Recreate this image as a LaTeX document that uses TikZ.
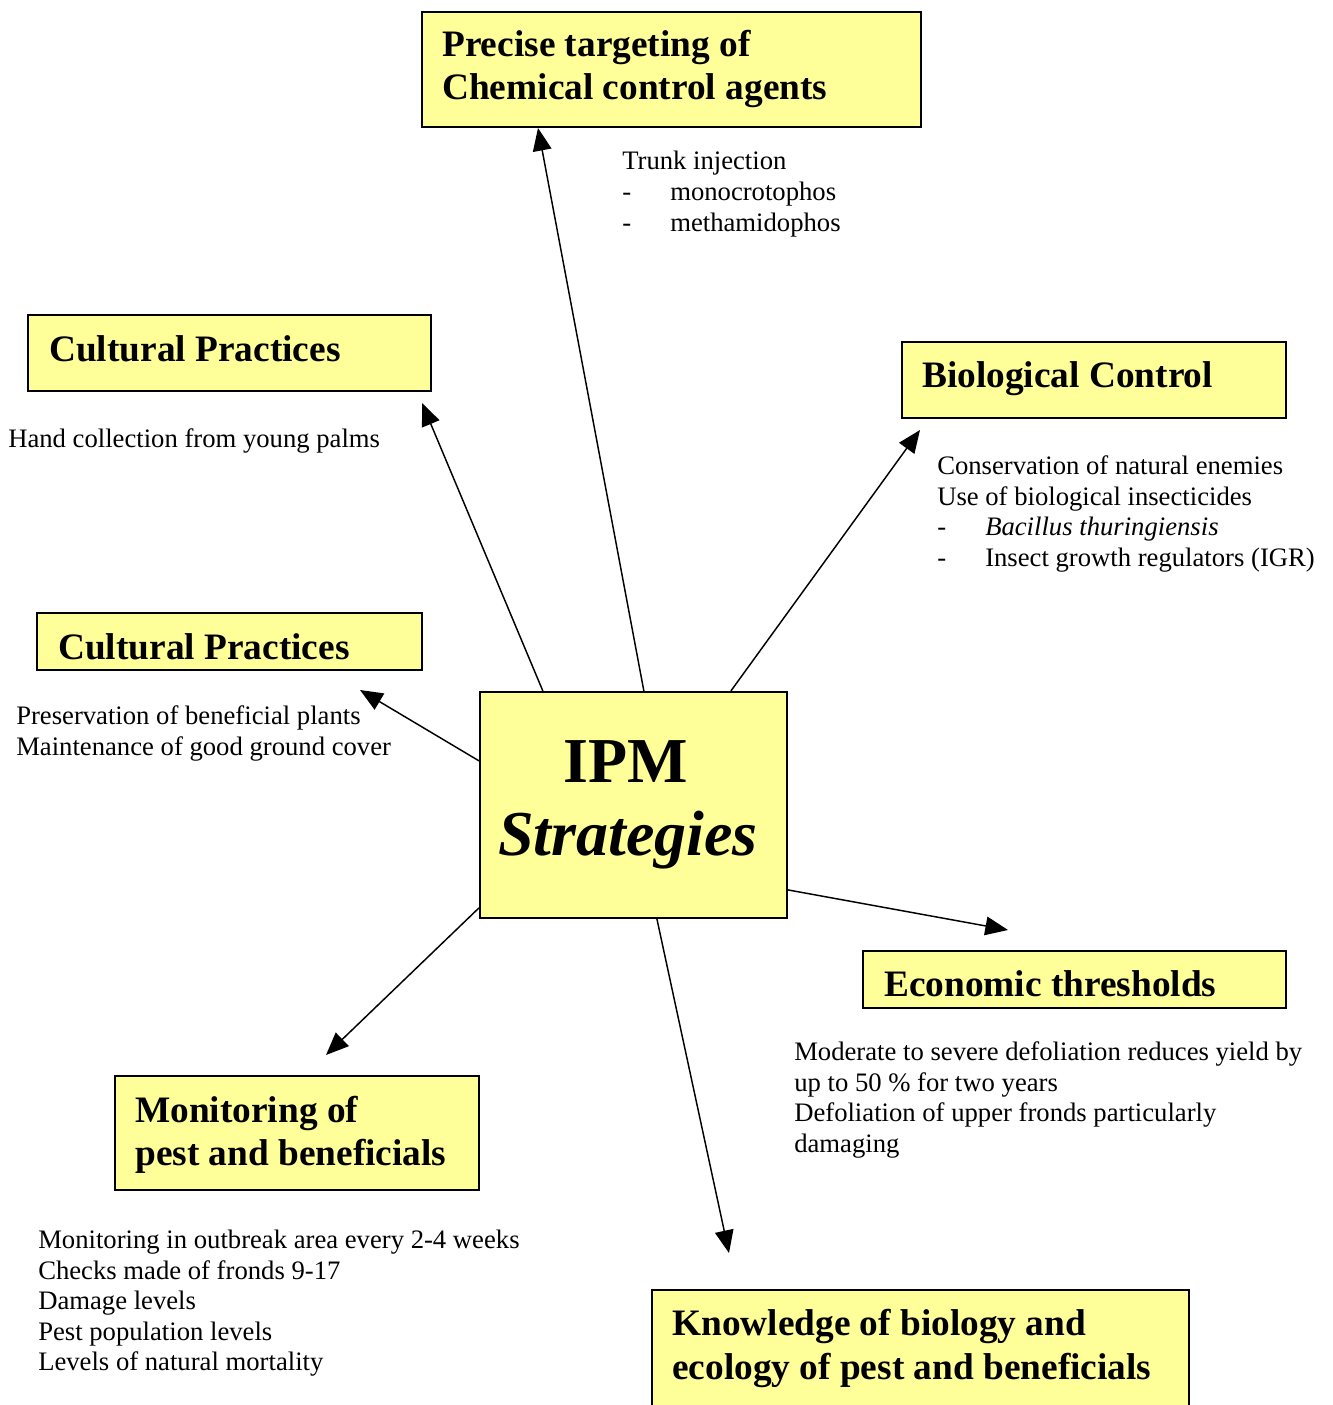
\documentclass[tikz,border=0pt]{standalone}
\usepackage{fontspec}
\setmainfont{Liberation Serif}
\usetikzlibrary{arrows.meta}
\definecolor{boxyellow}{HTML}{FFFF99}
\tikzset{
  box/.style={draw=black, line width=1.3pt, fill=boxyellow, inner sep=0, anchor=north west},
  ttl/.style={font=\fontsize{28}{33}\selectfont\bfseries, inner sep=0, anchor=base west},
  body/.style={font=\fontsize{20}{23}\selectfont, inner sep=0, anchor=base west},
  arr/.style={line width=1.1pt, -{Triangle[length=17pt,width=14pt]}}
}
\begin{document}
\begin{tikzpicture}[x=0.75pt,y=-0.75pt]
\useasboundingbox (0,0) rectangle (1332,1405);
% boxes
\node[box, minimum width=499*0.75pt, minimum height=115*0.75pt] (chembox) at (421,11) {};
\node[box, minimum width=403*0.75pt, minimum height=76*0.75pt] (cult1box) at (27,314) {};
\node[box, minimum width=384*0.75pt, minimum height=76*0.75pt] (biobox) at (901,341) {};
\node[box, minimum width=385*0.75pt, minimum height=57*0.75pt] (cult2box) at (36,612) {};
\node[box, minimum width=307*0.75pt, minimum height=226*0.75pt] (ipm) at (479,691) {};
\node[box, minimum width=423*0.75pt, minimum height=57*0.75pt] (econbox) at (862,950) {};
\node[box, minimum width=364*0.75pt, minimum height=114*0.75pt] (monbox) at (114,1075) {};
\node[box, minimum width=537*0.75pt, minimum height=140*0.75pt] (knowbox) at (651,1289) {};
% titles
\node[ttl] (chem1) at (442,57) {Precise targeting of};
\node[ttl] (chem2) at (442,100) {Chemical control agents};
\node[ttl] (cult1) at (49,361) {Cultural Practices};
\node[ttl] (bio) at (922,387) {Biological Control};
\node[ttl] (cult2) at (58,659) {Cultural Practices};
\node[ttl] (econ) at (884,996) {Economic thresholds};
\node[ttl] (mon1) at (135,1122) {Monitoring of};
\node[ttl] (mon2) at (135,1165) {pest and beneficials};
\node[ttl] (know1) at (672,1335) {Knowledge of biology and};
\node[ttl] (know2) at (672,1379) {ecology of pest and beneficials};
\node[font=\fontsize{48}{56}\selectfont\bfseries, inner sep=0, anchor=base] (ipm1) at (626,782) {IPM};
\node[font=\fontsize{48}{56}\selectfont\bfseries\itshape, inner sep=0, anchor=base] (ipm2) at (628,855) {Strategies};
% body texts
\node[body] (tr1) at (622,170) {Trunk injection};
\node[body] (tr2d) at (622,201) {-};
\node[body] (tr2) at (670,201) {monocrotophos};
\node[body] (tr3d) at (622,232) {-};
\node[body] (tr3) at (670,232) {methamidophos};
\node[body] (hand) at (8,447) {Hand collection from young palms};
\node[body] (bi1) at (937,474) {Conservation of natural enemies};
\node[body] (bi2) at (937,505) {Use of biological insecticides};
\node[body] (bi3d) at (937,535) {-};
\node[body] (bi3) at (985,535) {\itshape Bacillus thuringiensis};
\node[body] (bi4d) at (937,566) {-};
\node[body] (bi4) at (985,566) {Insect growth regulators (IGR)};
\node[body] (pr1) at (16,724) {Preservation of beneficial plants};
\node[body] (pr2) at (16,755) {Maintenance of good ground cover};
\node[body] (ec1) at (794,1060) {Moderate to severe defoliation reduces yield by};
\node[body] (ec2) at (794,1091) {up to 50 \% for two years};
\node[body] (ec3) at (794,1121) {Defoliation of upper fronds particularly};
\node[body] (ec4) at (794,1152) {damaging};
\node[body] (mo1) at (38,1248) {Monitoring in outbreak area every 2-4 weeks};
\node[body] (mo2) at (38,1279) {Checks made of fronds 9-17};
\node[body] (mo3) at (38,1309) {Damage levels};
\node[body] (mo4) at (38,1340) {Pest population levels};
\node[body] (mo5) at (38,1370) {Levels of natural mortality};
% arrow tips
\coordinate (tchem) at (538,128);
\coordinate (tcult1) at (422,403);
\coordinate (tbio) at (920,430);
\coordinate (tcult2) at (360,690);
\coordinate (tecon) at (1008,930);
\coordinate (tknow) at (729,1253);
\coordinate (tmon) at (326,1055);
% connectors
\draw[arr] ([xshift=10.5*0.75pt]ipm.north) -- (tchem);
\draw[arr] ([xshift=-90.5*0.75pt]ipm.north) -- (tcult1);
\draw[arr] ([xshift=97.5*0.75pt]ipm.north) -- (tbio);
\draw[arr] ([yshift=44*0.75pt]ipm.west) -- (tcult2);
\draw[arr] ([yshift=-85*0.75pt]ipm.east) -- (tecon);
\draw[arr] ([xshift=23.5*0.75pt]ipm.south) -- (tknow);
\draw[arr] ([yshift=-103*0.75pt]ipm.west) -- (tmon);
\end{tikzpicture}
\end{document}
